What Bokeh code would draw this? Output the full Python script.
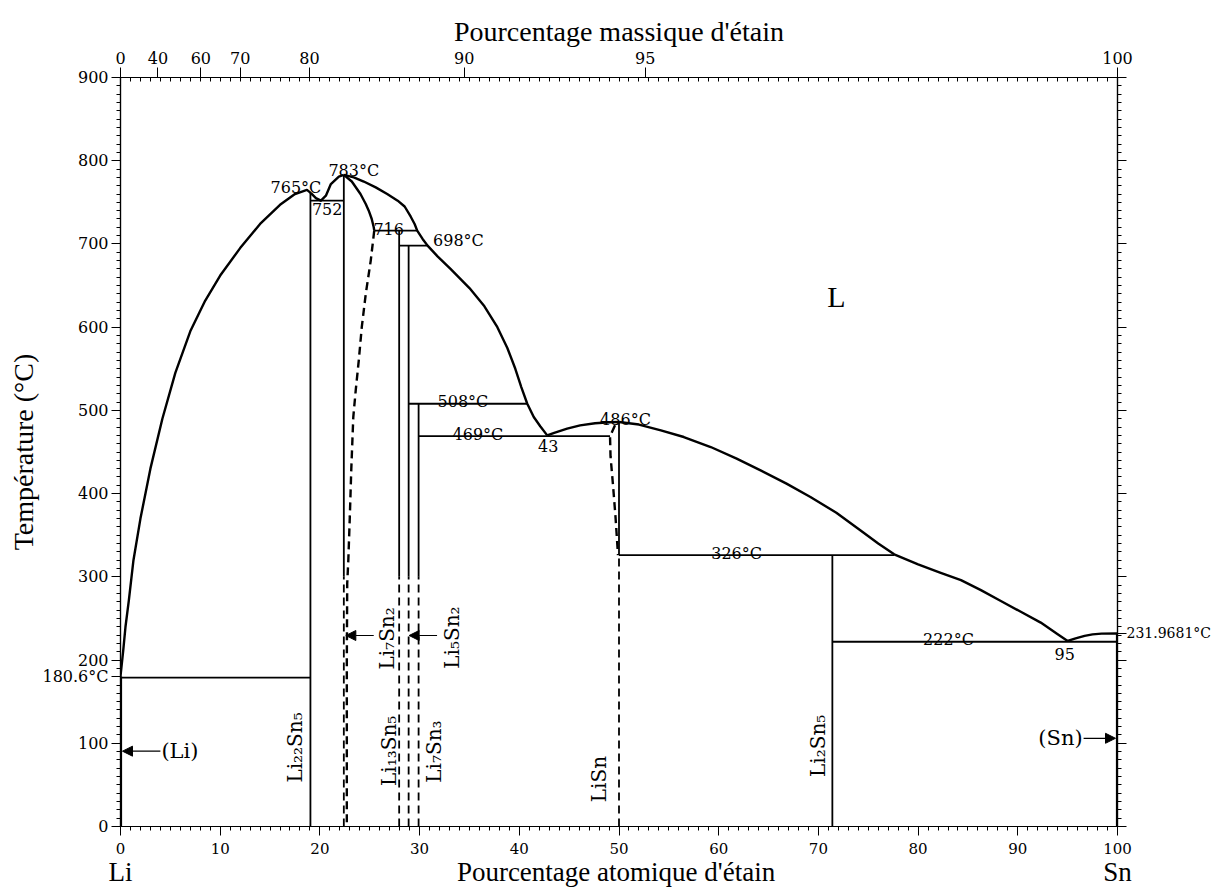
import math
from bokeh.plotting import figure
from bokeh.models import Range1d, LinearAxis, FixedTicker, Label, Arrow, NormalHead
from bokeh.embed import file_html
from bokeh.resources import INLINE

# ---------------- data (at.% Sn, temperature °C) ----------------
liq_li_x = [0, 0.27, 0.5, 0.84, 1.3, 2.0, 3.0, 4.2, 5.5, 7.0, 8.5, 10, 12, 14, 16, 17.5, 18.7, 19.1]
liq_li_t = [180.6, 211, 240, 272, 320, 370, 430, 490, 545, 595, 632, 662, 695, 724, 747, 760, 765, 761]

liq_dip_x = [19.1, 19.6, 20.1, 20.6, 21.1, 21.9, 22.4]
liq_dip_t = [761, 755, 752, 758, 772, 781, 783]

liq_mid_x = [22.4, 23.4, 24.4, 25.6, 26.75, 27.8, 28.5, 29.1, 29.5, 29.76, 30.3, 30.8, 31.8, 33.1, 35, 36.5, 37.8, 38.8, 39.6, 40.2, 40.8, 41.45, 42.1, 42.8]
liq_mid_t = [783, 780, 775, 768, 760, 752, 745, 733, 724, 716, 706, 698, 685, 670, 647, 625, 600, 575, 550, 528, 508, 492, 481, 470]

liq_lisn_x = [42.8, 43.5, 44.8, 46.1, 47.6, 49.1, 50.0]
liq_lisn_t = [470, 473, 478, 482, 484.5, 485.7, 486]

liq_sn_x = [50.0, 52.0, 54.2, 56.5, 59.2, 61.8, 64.2, 66.8, 69.2, 71.8, 74.2, 76.0, 77.6, 80.0, 82.2, 84.3, 86.3, 88.3, 90.3, 92.3, 94.0, 95.0]
liq_sn_t = [486, 483, 476, 468, 456, 442, 428, 412, 396, 377, 356, 340, 327, 315, 305, 296, 284, 271, 258, 245, 231, 223]

liq_end_x = [95.0, 95.8, 96.7, 97.5, 98.4, 100.0]
liq_end_t = [223, 226, 229, 230.8, 231.7, 231.97]

sol_li7sn2_x = [22.4, 23.2, 24.07, 24.6, 24.9, 25.2, 25.4, 25.45]
sol_li7sn2_t = [783, 775, 760, 748, 740, 730, 720, 716]

dash_li7sn2_x = [25.45, 25.1, 24.6, 24.2, 23.9, 23.6, 23.35, 23.15, 23.0, 22.85, 22.74, 22.7, 22.7]
dash_li7sn2_t = [716, 680, 640, 600, 560, 525, 492, 430, 372, 320, 292, 200, 0]

dash_lisn_x = [49.6, 49.1, 49.15, 49.4, 49.65, 49.9]
dash_lisn_t = [482, 469, 445, 410, 372, 326]

inv_t = [179, 752, 716, 698, 508, 469, 326, 222]
inv_x0 = [0, 19.05, 25.45, 27.95, 28.9, 29.9, 50.0, 71.4]
inv_x1 = [19.05, 22.4, 29.76, 30.8, 40.8, 49.1, 77.6, 100]

comp_x = [19.05, 22.4, 27.95, 28.9, 29.9, 50.0, 71.4]
comp_top = [762, 783, 716, 698, 508, 486, 326]
comp_dash_below = [0, 300, 300, 300, 300, 326, 0]

pure_x = [0, 100]
pure_top = [180.6, 231.97]
pure_labels = ["180.6°C", "231.9681°C"]

wt_ticks = [0, 40, 60, 70, 80, 90, 95, 100]
M_LI, M_SN = 6.94, 118.71


def wt_to_at(w):
    a = w / M_SN
    b = (100 - w) / M_LI
    return 100.0 * a / (a + b)


wt_pos = [wt_to_at(w) for w in wt_ticks]
t_major = list(range(0, 901, 100))
t_minor = list(range(0, 901, 10))

# ---------------- figure ----------------
W, H = 1220, 890
p = figure(width=W, height=H, x_range=Range1d(0, 100), y_range=Range1d(0, 900),
           x_axis_type=None, y_axis_type=None, output_backend="svg",
           toolbar_location=None, min_border_left=120, min_border_right=W - 1117,
           min_border_top=77, min_border_bottom=H - 826)
p.outline_line_color = "black"
p.outline_line_width = 1.2
p.background_fill_color = "white"
p.border_fill_color = "white"

TICK_FONT = "DejaVu Serif"
TITLE_FONT = "Liberation Serif"
common = dict(axis_line_color="black", major_tick_line_color="black", minor_tick_line_color="black",
              major_label_text_color="black", axis_label_text_color="black")

bottom = LinearAxis(ticker=FixedTicker(ticks=list(range(0, 101, 10)), minor_ticks=list(range(0, 101))),
                    major_tick_out=9, major_tick_in=0, minor_tick_out=4, minor_tick_in=0,
                    major_label_text_font=TICK_FONT, major_label_text_font_size="15px",
                    major_label_standoff=7, axis_line_width=1.2, **common)
bottom2 = LinearAxis(ticker=FixedTicker(ticks=[0, 49.7, 100], minor_ticks=[]),
                     major_tick_out=0, major_tick_in=0, minor_tick_out=0, minor_tick_in=0,
                     axis_line_color=None, major_tick_line_color=None, major_label_text_color="black",
                     major_label_overrides={0: "Li", 49.7: "Pourcentage atomique d'étain", 100: "Sn"},
                     major_label_text_font=TITLE_FONT, major_label_text_font_size="27px",
                     major_label_standoff=0)
left_ticks = sorted(t_major + [pure_top[0]])
left_over = {t: str(t) for t in t_major}
left_over[pure_top[0]] = pure_labels[0]
left = LinearAxis(ticker=FixedTicker(ticks=left_ticks, minor_ticks=t_minor),
                  major_tick_out=9, major_tick_in=0, minor_tick_out=4, minor_tick_in=0,
                  major_label_overrides=left_over,
                  major_label_text_font=TICK_FONT, major_label_text_font_size="16px",
                  major_label_standoff=3, axis_line_width=1.2,
                  axis_label="Température (°C)", axis_label_text_font=TITLE_FONT,
                  axis_label_text_font_size="28px", axis_label_text_font_style="normal",
                  axis_label_standoff=0, **common)
right_over = {t: "" for t in t_major}
right_over[pure_top[1]] = pure_labels[1]
right = LinearAxis(ticker=FixedTicker(ticks=sorted(t_major + [pure_top[1]]), minor_ticks=t_minor),
                   major_tick_out=9, major_tick_in=0, minor_tick_out=4, minor_tick_in=0,
                   major_label_overrides=right_over, major_label_text_font=TICK_FONT,
                   major_label_text_font_size="14px", major_label_standoff=0, axis_line_width=1.2,
                   **common)
top = LinearAxis(ticker=FixedTicker(ticks=wt_pos, minor_ticks=list(range(0, 101))),
                 major_tick_out=10, major_tick_in=0, minor_tick_out=0, minor_tick_in=4,
                 major_label_overrides={pos: str(w) for pos, w in zip(wt_pos, wt_ticks)},
                 major_label_text_font=TICK_FONT, major_label_text_font_size="16px",
                 major_label_standoff=4, axis_line_width=1.2,
                 axis_label="Pourcentage massique d'étain", axis_label_text_font=TITLE_FONT,
                 axis_label_text_font_size="28px", axis_label_text_font_style="normal",
                 axis_label_standoff=2, **common)
p.add_layout(bottom, "below")
p.add_layout(bottom2, "below")
p.add_layout(left, "left")
p.add_layout(right, "right")
p.add_layout(top, "above")

LW_CURVE = 2.4
LW_LINE = 1.8
DASH = "8 5"

for xs, ts in [(liq_li_x, liq_li_t), (liq_dip_x, liq_dip_t), (liq_mid_x, liq_mid_t),
               (liq_lisn_x, liq_lisn_t), (liq_sn_x, liq_sn_t), (liq_end_x, liq_end_t),
               (sol_li7sn2_x, sol_li7sn2_t)]:
    p.line(xs, ts, line_color="black", line_width=LW_CURVE, line_join="round")

p.line(dash_li7sn2_x, dash_li7sn2_t, line_color="black", line_width=LW_CURVE, line_dash=DASH)
p.line(dash_lisn_x, dash_lisn_t, line_color="black", line_width=LW_CURVE, line_dash=DASH)

p.segment(x0=inv_x0, y0=inv_t, x1=inv_x1, y1=inv_t, line_color="black", line_width=LW_LINE)

p.segment(x0=comp_x, y0=comp_dash_below, x1=comp_x, y1=comp_top, line_color="black", line_width=LW_LINE)
dx = [x for x, d in zip(comp_x, comp_dash_below) if d > 0]
dy = [d for d in comp_dash_below if d > 0]
p.segment(x0=dx, y0=[0] * len(dx), x1=dx, y1=dy, line_color="black", line_width=LW_LINE, line_dash=DASH)

p.segment(x0=pure_x, y0=[0, 0], x1=pure_x, y1=pure_top, line_color="black", line_width=3.2)

# ---------------- texts ----------------
VAL_FONT = "DejaVu Serif"


def lab(x, y, text, size="16px", align="center", base="alphabetic", angle=0, font=VAL_FONT):
    p.add_layout(Label(x=x, y=y, text=text, text_font=font, text_font_size=size,
                       text_align=align, text_baseline=base, angle=angle, text_color="black"))


val_labels = [
    (17.6, 768, "765°C", "center", "alphabetic"),
    (23.4, 788, "783°C", "center", "alphabetic"),
    (20.73, 749, "752", "center", "top"),
    (26.9, 717.5, "716", "center", "alphabetic"),
    (31.35, 704, "698°C", "left", "middle"),
    (34.35, 511, "508°C", "center", "alphabetic"),
    (35.85, 471, "469°C", "center", "alphabetic"),
    (42.9, 464, "43", "center", "top"),
    (50.65, 489, "486°C", "center", "alphabetic"),
    (61.8, 328.5, "326°C", "center", "alphabetic"),
    (83.05, 224.5, "222°C", "center", "alphabetic"),
    (94.7, 215, "95", "center", "top"),
]
for x, y, t, a, b in val_labels:
    lab(x, y, t, "16px", a, b)

lab(71.8, 637, "L", "30px", "center", "middle", font=TITLE_FONT)

rot_labels = [
    (17.55, 95, "Li₂₂Sn₅"),
    (26.7, 226, "Li₇Sn₂"),
    (33.2, 227, "Li₅Sn₂"),
    (26.9, 91, "Li₁₃Sn₅"),
    (31.4, 90, "Li₇Sn₃"),
    (48.0, 57, "LiSn"),
    (70.0, 97, "Li₂Sn₅"),
]
for x, y, t in rot_labels:
    lab(x, y, t, "20px", "center", "middle", angle=math.pi / 2)

lab(4.1, 90.5, "(Li)", "21px", "left", "middle")
lab(96.5, 106, "(Sn)", "21px", "right", "middle")

arrows = [
    (25.4, 229.5, 22.6, 229.5),
    (31.75, 229.5, 28.95, 229.5),
    (4.0, 90.5, 0.2, 90.5),
    (96.6, 106, 99.8, 106),
]
for xs, ys, xe, ye in arrows:
    p.add_layout(Arrow(end=NormalHead(size=10, fill_color="black", line_color="black"),
                       x_start=xs, y_start=ys, x_end=xe, y_end=ye, line_width=1.2, line_color="black"))

open("out.html", "w").write(file_html(p, INLINE))
